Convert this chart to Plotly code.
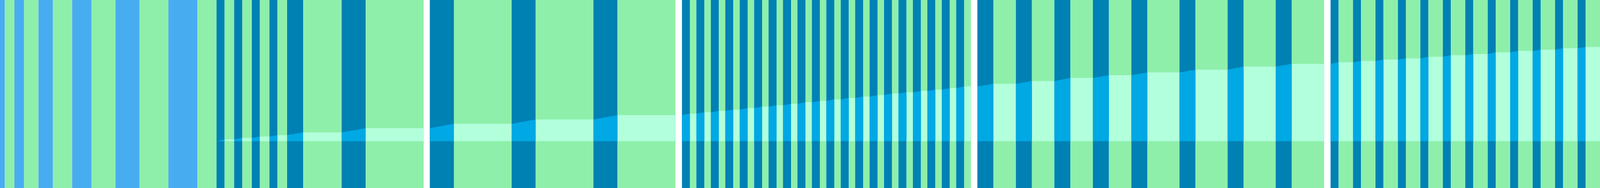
import plotly.graph_objects as go

# stripe widths (x units), left to right, section by section
sec1_widths = [15, 30, 30, 45, 45, 60, 60, 75, 75, 90, 90, 60]
sec2_widths = [25, 30, 25, 30, 25, 30, 25, 30, 50, 120, 75, 181]
sec3_widths = [75, 180, 75, 180, 75, 181]
sec4_widths = [25, 20, 25, 20, 25, 20, 25, 20, 25, 20, 25, 20, 25, 20, 25, 20, 25, 20, 25, 20,
               25, 20, 25, 20, 25, 20, 25, 20, 25, 20, 25, 20, 25, 20, 25, 20, 25, 20, 25, 21]
sec5_widths = [50, 70, 50, 70, 50, 70, 50, 70, 50, 100, 50, 100, 50, 100, 50, 101]
sec6_widths = [25, 45, 25, 45, 25, 45, 25, 45, 25, 45, 25, 45,
               25, 45, 25, 45, 25, 45, 25, 45, 25, 45, 25, 45]
# white gaps that follow sections 2, 3, 4 and 5
gap_widths = [0, 19, 20, 20, 20]

# stripe kinds: b = light blue, t = teal, g = green
sec1_kinds = "bgbgbgbgbgbg"
sec2_kinds = "tgtgtgtgtgtg"
sec3_kinds = "tgtgtg"
sec4_kinds = "tgtgtgtgtgtgtgtgtgtgtgtgtgtgtgtgtgtgtgtg"
sec5_kinds = "tgtgtgtgtgtgtgtg"
sec6_kinds = "tgtgtgtgtgtgtgtgtgtgtgtg"

# plateau level reached on each green stripe
sec1_levels = [0, 0, 0, 0, 0, 0]
sec2_levels = [4.5, 8.3, 12, 15.5, 22.5, 33.3]
sec3_levels = [44.5, 55.5, 66.5]
sec4_levels = [70.5, 73.8, 77.5, 80.5, 84.8, 88.5, 91.5, 95.5, 99.5, 102.8,
               106.8, 110.5, 113.8, 117.8, 121.8, 124.8, 128.5, 131.8, 135.5, 140]
sec5_levels = [146.5, 153.5, 161.5, 168.5, 175.5, 182.5, 190.5, 197.5]
sec6_levels = [201.5, 204.8, 208.5, 211.5, 215.5, 219.5, 222.5, 226.8,
               230.5, 233.5, 237.5, 240.5]

stripe_colors = {'b': '#48acf0', 't': '#0081b4', 'g': '#8eefab', 'w': '#ffffff'}
band_colors = {'b': '#5ec4f5', 't': '#00a8e4', 'g': '#b2ffdc'}

sections = [
    (sec1_widths, sec1_kinds, sec1_levels),
    (sec2_widths, sec2_kinds, sec2_levels),
    (sec3_widths, sec3_kinds, sec3_levels),
    (sec4_widths, sec4_kinds, sec4_levels),
    (sec5_widths, sec5_kinds, sec5_levels),
    (sec6_widths, sec6_kinds, sec6_levels),
]

widths, kinds, levels = [], [], []
for i, (w, k, lv) in enumerate(sections):
    widths += w
    kinds += list(k)
    levels += lv
    if i < len(gap_widths) and gap_widths[i] > 0:
        widths.append(gap_widths[i])
        kinds.append('w')

lefts = []
pos = 0
for w in widths:
    lefts.append(pos)
    pos += w
total = pos
centers = [l + w / 2 for l, w in zip(lefts, widths)]

fig = go.Figure()

fig.add_trace(go.Bar(x=centers, y=[480] * len(widths), base=-119.5, width=widths,
                     marker=dict(color=[stripe_colors[k] for k in kinds], line_width=0),
                     hoverinfo='skip'))

# mint plateaus on green stripes
lvl_iter = iter(levels)
green_level = {}
for idx, k in enumerate(kinds):
    if k == 'g':
        green_level[idx] = next(lvl_iter)

gx, gy, gw = [], [], []
for idx, v in green_level.items():
    if v > 0:
        gx.append(centers[idx])
        gy.append(v)
        gw.append(widths[idx])
fig.add_trace(go.Bar(x=gx, y=gy, base=0, width=gw,
                     marker=dict(color=band_colors['g'], line_width=0),
                     hoverinfo='skip'))

# rising fill on the dark stripes, from the previous plateau to the next one
px, py = [], []
prev = 0
for idx, k in enumerate(kinds):
    if k == 'g':
        prev = green_level[idx]
        continue
    if k != 't':
        continue
    nxt = next(green_level[j] for j in range(idx + 1, len(kinds)) if kinds[j] == 'g')
    x0, x1 = lefts[idx], lefts[idx] + widths[idx]
    px += [x0, x0, x1, x1, None]
    py += [0, prev, nxt, 0, None]
fig.add_trace(go.Scatter(x=px, y=py, mode='lines', fill='toself',
                         fillcolor=band_colors['t'], line=dict(width=0),
                         hoverinfo='skip'))

fig.update_layout(
    autosize=True,
    margin=dict(l=0, r=0, t=0, b=0),
    barmode='overlay',
    showlegend=False,
    paper_bgcolor='white',
    plot_bgcolor='white',
    xaxis=dict(range=[0, total], visible=False, fixedrange=True),
    yaxis=dict(range=[-119.5, 360.5], visible=False, fixedrange=True),
)

fig.write_html("out.html", default_width="100vw", default_height="100vh",
               config={'responsive': True, 'displayModeBar': False},
               post_script="document.body.style.margin='0';")
